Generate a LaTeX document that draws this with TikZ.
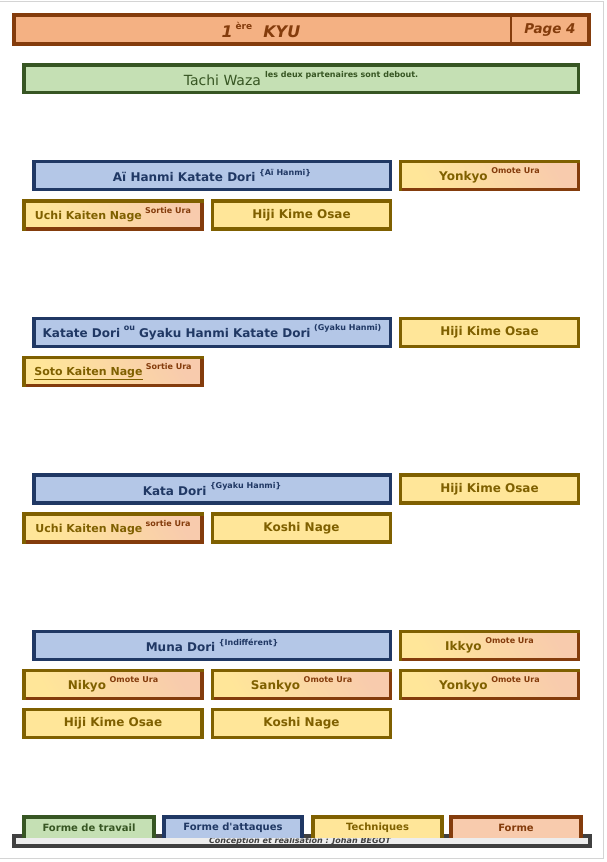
\documentclass[tikz,border=0pt]{standalone}
\usepackage{fontspec}
\setmainfont{DejaVu Sans}
\newfontfamily\droit{DejaVu Sans}
\usepackage{xcolor}
\usepackage{tikz}
\usetikzlibrary{calc}

\definecolor{brun}{HTML}{843C0C}
\definecolor{saumon}{HTML}{F4B183}
\definecolor{peche}{HTML}{F8CBAD}
\definecolor{vert}{HTML}{375623}
\definecolor{vertclair}{HTML}{C5E0B4}
\definecolor{marine}{HTML}{203864}
\definecolor{bleuclair}{HTML}{B4C7E7}
\definecolor{or}{HTML}{7F6000}
\definecolor{jaune}{HTML}{FFE699}
\definecolor{gristrait}{HTML}{404040}
\definecolor{grisclair}{HTML}{EDEDED}
\definecolor{cadre}{HTML}{D4D4D4}

% small raised text after a label
\newcommand{\expo}[1]{\hspace{0.3em}\raisebox{0.55em}{\fontsize{8pt}{9pt}\selectfont\bfseries #1}}

\tikzset{
  boite/.style={inner sep=0pt, outer sep=0pt, minimum height=28pt, line width=3.5pt,
    font=\bfseries\fontsize{12pt}{14pt}\selectfont},
  petit/.style={font=\bfseries\fontsize{11pt}{13pt}\selectfont},
  attaque/.style={boite, draw=marine, fill=bleuclair, text=marine, minimum width=356.5pt},
  technique/.style={boite, draw=or, fill=jaune, text=or, minimum width=178pt},
  forme/.style={boite, draw=brun, left color=jaune, right color=peche, shading angle=120, text=or, minimum width=178pt},
  bordor/.style={draw=or, line width=3.5pt, line cap=rect},
  onglet/.style={inner sep=0pt, outer sep=0pt, minimum height=21pt,
    font=\bfseries\fontsize{10pt}{11pt}\selectfont},
  bordonglet/.style={line width=4pt},
}

% box with gold top/left and brown bottom/right
\newcommand{\forme}[5][]{%
  \node[forme,#1] (#2) at (#3) {#4\expo{\color{brun}#5}};
  \draw[bordor] (#2.south west) -- (#2.north west) -- (#2.north east);
}

\begin{document}
\begin{tikzpicture}[x=1pt,y=-1pt]
\useasboundingbox (0,0) rectangle (607,862);

% Page frame
\draw[cadre, line width=1pt] (0,1.5) -- (603.5,1.5) -- (603.5,858.5) -- (0,858.5);

% Header
\node[draw=brun, fill=saumon, line width=4.5pt, outer sep=0pt, minimum width=575pt, minimum height=29pt] (entete) at (301.5,29.5) {};
\coordinate (sep) at (511,29.5);
\draw[brun, line width=2.5pt] (sep |- entete.north) -- (sep |- entete.south);
\node[text=brun, font=\bfseries\itshape\fontsize{16pt}{18pt}\selectfont] (titre) at (261,30)
  {1\,\raisebox{0.5em}{\fontsize{9pt}{10pt}\selectfont\upshape ère}\ \ KYU};
\node[text=brun, font=\bfseries\itshape\fontsize{13.5pt}{15pt}\selectfont] (page) at (550,30) {Page 4};

% Work form
\node[boite, draw=vert, fill=vertclair, text=vert, minimum width=554.5pt, minimum height=27.5pt,
  font=\fontsize{14pt}{16pt}\selectfont] (tachi) at (301,78.5) {Tachi Waza\expo{les deux partenaires sont debout.}};

% Group 1
\node[attaque] (aihanmi) at (212,175.5) {Aï Hanmi Katate Dori\expo{\{Aï Hanmi\}}};
\forme{yonkyoA}{489.5,175.5}{Yonkyo}{Omote Ura}
\forme[petit]{uchiA}{113,215}{Uchi Kaiten Nage}{Sortie Ura}
\node[technique] (hijiA) at (301.5,215) {Hiji Kime Osae};

% Group 2
\node[attaque] (gyaku) at (212,332.5) {Katate Dori\expo{ou} Gyaku Hanmi Katate Dori\expo{(Gyaku Hanmi)}};
\node[technique] (hijiB) at (489.5,332.5) {Hiji Kime Osae};
\forme[petit]{sotoB}{113,371.5}{\underline{Soto Kaiten Nage}}{Sortie Ura}

% Group 3
\node[attaque] (katadori) at (212,489) {Kata Dori\expo{\{Gyaku Hanmi\}}};
\node[technique] (hijiC) at (489.5,489) {Hiji Kime Osae};
\forme[petit]{uchiC}{113,528}{Uchi Kaiten Nage}{sortie Ura}
\node[technique] (koshiC) at (301.5,528) {Koshi Nage};

% Group 4
\node[attaque] (munadori) at (212,645.5) {Muna Dori\expo{\{Indifférent\}}};
\forme{ikkyo}{489.5,645.5}{Ikkyo}{Omote Ura}
\forme{nikyo}{113,684.5}{Nikyo}{Omote Ura}
\forme{sankyo}{301.5,684.5}{Sankyo}{Omote Ura}
\forme{yonkyoD}{489.5,684.5}{Yonkyo}{Omote Ura}
\node[technique] (hijiD) at (113,723.5) {Hiji Kime Osae};
\node[technique] (koshiD) at (301.5,723.5) {Koshi Nage};

% Footer bar
\node[fill=grisclair, outer sep=0pt, minimum width=576pt, minimum height=10pt] (barre) at (302,841) {};
\node[text=gristrait, inner sep=0pt, font=\bfseries\itshape\fontsize{8pt}{9pt}\selectfont] (credit) at (300,841.5)
  {\underline{Conception et réalisation : Johan BÉGOT}};
\draw[gristrait, line width=4pt] (barre.north west) rectangle (barre.south east);

% Legend tabs
\node[onglet, fill=vertclair, text=vert, minimum width=130pt] (ongletA) at (89,827.5) {Forme de travail};
\draw[bordonglet, vert] (ongletA.south west) -- (ongletA.north west) -- (ongletA.north east) -- (ongletA.south east);
\node[onglet, fill=bleuclair, text=marine, minimum width=138pt] (ongletB) at (233,827.5) {Forme d{\droit '}attaques};
\draw[bordonglet, marine] (ongletB.south west) -- (ongletB.north west) -- (ongletB.north east) -- (ongletB.south east);
\node[onglet, fill=jaune, text=or, minimum width=129pt] (ongletC) at (377.5,827.5) {Techniques};
\draw[bordonglet, or] (ongletC.south west) -- (ongletC.north west) -- (ongletC.north east) -- (ongletC.south east);
\node[onglet, fill=peche, text=brun, minimum width=130pt] (ongletD) at (516,827.5) {Forme};
\draw[bordonglet, brun] (ongletD.south west) -- (ongletD.north west) -- (ongletD.north east) -- (ongletD.south east);

\end{tikzpicture}
\end{document}
